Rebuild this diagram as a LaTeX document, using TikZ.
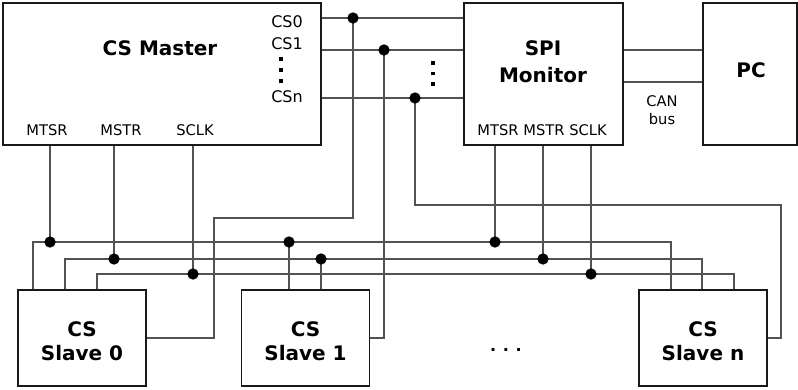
\documentclass[tikz,border=0pt]{standalone}
\usepackage{fontspec}
\setmainfont{DejaVu Sans}
\usetikzlibrary{positioning,calc}

\tikzset{
    box/.style={draw=black!90, line width=1.1pt, inner sep=0pt},
    wire/.style={draw=black!68, line width=1.1pt},
    joint/.style={circle, fill=black, inner sep=0pt, minimum size=8.5pt},
    dotmark/.style={rectangle, fill=black, inner sep=0pt, minimum size=2.6pt},
    pin/.style={font=\fontsize{11}{13.5}\selectfont, inner sep=0pt, align=center},
    cspin/.style={font=\fontsize{12}{14}\selectfont, inner sep=0pt, anchor=base},
    title/.style={font=\bfseries\fontsize{15}{18}\selectfont, inner sep=0pt, align=center},
}

\begin{document}
\begin{tikzpicture}[x=0.75pt, y=-0.75pt]
    \useasboundingbox (0,0) rectangle (798,389);

    % Boxes
    \node[box, minimum width=238.5pt, minimum height=106.5pt] (master) at (162,74) {};
    \node[box, minimum width=119.25pt, minimum height=106.5pt] (spi) at (543.5,74) {};
    \node[box, minimum width=70.5pt, minimum height=106.5pt] (pc) at (750,74) {};
    \node[box, minimum width=96pt, minimum height=72pt] (s0) at (82,338) {};
    \node[box, minimum width=96pt, minimum height=72pt] (s1) at (305.5,338) {};
    \node[box, minimum width=96pt, minimum height=72pt] (sn) at (703,338) {};

    % Titles
    \node[title, anchor=base] (mastertitle) at (160,55) {CS Master};
    \node[title, font=\bfseries\fontsize{15}{20}\selectfont] (spititle) at (543,61.5) {SPI\\Monitor};
    \node[title, anchor=base] (pctitle) at (751,77) {PC};
    \node[title] (s0title) at (82,341.5) {CS\\Slave 0};
    \node[title] (s1title) at (305.5,341.5) {CS\\Slave 1};
    \node[title] (sntitle) at (703,341.5) {CS\\Slave n};

    % Pin labels
    \node[cspin] (cs0) at (287,27) {CS0};
    \node[cspin] (cs1) at (287,49) {CS1};
    \node[cspin] (csn) at (287,102) {CSn};
    \node[pin, anchor=base] (mmtsr) at (47,135) {MTSR};
    \node[pin, anchor=base] (mmstr) at (121,135) {MSTR};
    \node[pin, anchor=base] (msclk) at (195,135) {SCLK};
    \node[pin, anchor=base] (smtsr) at (498,135) {MTSR};
    \node[pin, anchor=base] (smstr) at (544,135) {MSTR};
    \node[pin, anchor=base] (ssclk) at (588,135) {SCLK};
    \node[pin] (canbus) at (662,110) {CAN\\bus};
    \node[cspin, anchor=center, font=\bfseries\fontsize{12}{14}\selectfont] (slavedots) at (506,350) {.\hspace{5pt}.\hspace{5pt}.};

    % Vertical ellipses
    \foreach \y in {59,70,81}
        \node[dotmark] at (281,\y) {};
    \foreach \y in {63,73.5,84}
        \node[dotmark] at (433,\y) {};

    % Junctions
    \coordinate (d0) at (353,18);
    \coordinate (d1) at (384,50);
    \coordinate (dn) at (415,98);
    \coordinate (can) at (663,82);
    \coordinate (m1) at (50,242);
    \coordinate (m2) at (114,259);
    \coordinate (m3) at (193,274);
    \coordinate (p1) at (495,242);
    \coordinate (p2) at (543,259);
    \coordinate (p3) at (591,274);
    \coordinate (t1) at (289,242);
    \coordinate (t2) at (321,259);

    % Chip select lines
    \draw[wire] (master.east |- d0) -- (spi.west |- d0);
    \draw[wire] (master.east |- d1) -- (spi.west |- d1);
    \draw[wire] (master.east |- dn) -- (spi.west |- dn);

    % CAN bus
    \draw[wire] (spi.east |- d1) -- (pc.west |- d1);
    \draw[wire] (spi.east |- can) -- (pc.west |- can);

    % Chip selects down to the slaves
    \coordinate (c0) at (214,218);
    \coordinate (cn) at (781,205);
    \draw[wire] (d0) |- (c0) |- (s0.east);
    \draw[wire] (d1) |- (s1.east);
    \draw[wire] (dn) |- (cn) |- (sn.east);

    % SPI bus
    \coordinate (b1a) at (33,242);
    \coordinate (b1b) at (671,242);
    \coordinate (b2a) at (65,259);
    \coordinate (b2b) at (702,259);
    \coordinate (b3a) at (97,274);
    \coordinate (b3b) at (734,274);
    \draw[wire] (s0.north -| b1a) -- (b1a) -- (b1b) -- (sn.north -| b1b);
    \draw[wire] (s0.north -| b2a) -- (b2a) -- (b2b) -- (sn.north -| b2b);
    \draw[wire] (s0.north -| b3a) -- (b3a) -- (b3b) -- (sn.north -| b3b);

    % Taps
    \foreach \p in {m1,m2,m3}
        \draw[wire] (master.south -| \p) -- (\p);
    \foreach \p in {p1,p2,p3}
        \draw[wire] (spi.south -| \p) -- (\p);
    \foreach \p in {t1,t2}
        \draw[wire] (s1.north -| \p) -- (\p);

    % Dots
    \foreach \p in {d0,d1,dn,m1,m2,m3,p1,p2,p3,t1,t2}
        \node[joint] at (\p) {};
\end{tikzpicture}
\end{document}
